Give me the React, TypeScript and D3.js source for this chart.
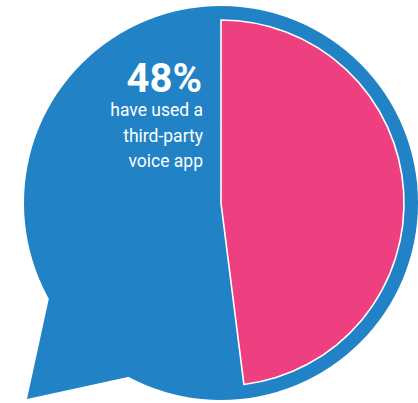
import React from "react";
import * as d3 from "d3";

const categories = ["Used third-party voice app", "Not used"];
const values = [48, 52];
const headline = "48%";
const captionLines = ["have used a", "third-party", "voice app"];

const W = 418;
const H = 403;
const BLUE = "#2183c6";
const PINK = "#ee4081";

export default function App() {
  const cx = 221;
  const cy = 203;
  const outerR = 197;
  const pieR = 183;

  const pie = d3.pie<number>().sort(null).value((d) => d);
  const arcs = pie(values);
  const arcGen = d3.arc<d3.PieArcDatum<number>>().innerRadius(0).outerRadius(pieR);

  // speech bubble tail
  const tail: [number, number][] = [
    [49 - cx, 298 - cy],
    [27 - cx, 399 - cy],
    [128 - cx, 377 - cy],
    [0, 0],
  ];
  const tailPath = d3.line()(tail) + "Z";

  return (
    <svg
      width={W}
      height={H}
      style={{ position: "fixed", left: 0, top: 0, display: "block" }}
    >
      <rect width={W} height={H} fill="#fff" />
      <g transform={`translate(${cx},${cy})`}>
        <path d={tailPath} fill={BLUE} />
        <circle r={outerR} fill={BLUE} />
        <path
          d={arcGen(arcs[0]) || ""}
          fill={PINK}
          stroke="#fff"
          strokeWidth={1.6}
          strokeLinejoin="miter"
        />
      </g>
      <text
        x={202}
        y={92}
        textAnchor="end"
        fill="#fff"
        fontFamily="Roboto, 'DejaVu Sans', sans-serif"
        fontWeight={700}
        fontSize={40}
        data-category={categories[0]}
      >
        {headline}
      </text>
      {captionLines.map((l, i) => (
        <text
          key={i}
          x={203}
          y={116 + i * 25.5}
          textAnchor="end"
          fill="#fff"
          fontFamily="Roboto, 'DejaVu Sans', sans-serif"
          fontWeight={400}
          fontSize={17.5}
        >
          {l}
        </text>
      ))}
    </svg>
  );
}
